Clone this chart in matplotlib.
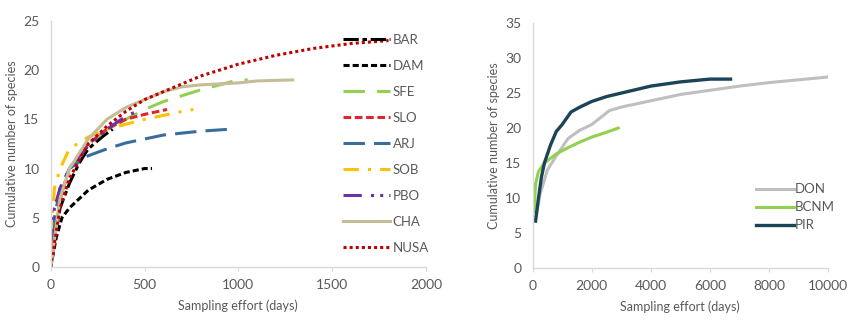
import numpy as np
import matplotlib.pyplot as plt

plt.rcParams['font.family'] = ['Lato', 'DejaVu Sans']

# left panel: species accumulation curves (x = sampling days, y = species)
bar_x = [0, 20, 50, 100, 150, 200, 280, 330]
bar_y = [0, 3, 6, 8.5, 10.5, 12, 13.3, 14]
dam_x = [0, 30, 60, 100, 200, 300, 400, 500, 540]
dam_y = [0, 3, 5, 6, 7.8, 8.9, 9.6, 10, 10]
sfe_x = [0, 50, 100, 200, 300, 400, 500, 600, 700, 800, 900, 1000, 1050]
sfe_y = [0, 7, 10, 12.5, 14, 15, 16, 16.8, 17.4, 18, 18.5, 19, 19]
slo_x = [0, 50, 100, 200, 300, 400, 500, 620]
slo_y = [0, 7, 10, 12.5, 14, 15, 15.5, 16]
arj_x = [0, 20, 50, 100, 200, 300, 400, 500, 600, 700, 800, 960]
arj_y = [0, 5, 8, 10, 11.3, 12, 12.6, 13, 13.4, 13.6, 13.8, 14]
sob_x = [0, 20, 50, 100, 200, 300, 400, 500, 600, 700, 760]
sob_y = [3, 8, 10, 12, 13.2, 14, 14.5, 15, 15.4, 15.8, 16]
pbo_x = [0, 20, 50, 100, 200, 300, 400, 470]
pbo_y = [2, 6, 8, 10, 12.3, 14, 15.3, 15.9]
cha_x = [0, 50, 100, 200, 300, 400, 500, 600, 700, 800, 900, 1000, 1100, 1290]
cha_y = [0, 7, 10, 13, 15, 16.2, 17, 17.8, 18.3, 18.5, 18.6, 18.7, 18.9, 19]
nusa_x = [0, 50, 100, 200, 300, 400, 500, 600, 700, 800, 900, 1000, 1200, 1400, 1600, 1800]
nusa_y = [0, 6, 9, 12.5, 14.3, 15.8, 17, 17.8, 18.6, 19.4, 20, 20.6, 21.5, 22.2, 22.7, 23]

# right panel
don_x = [100, 250, 500, 800, 1200, 1600, 2000, 2600, 3000, 4000, 5000, 6000, 7000, 8000, 9000, 10000]
don_y = [7, 10.5, 14, 16, 18.5, 19.7, 20.5, 22.5, 23, 23.9, 24.8, 25.4, 26, 26.5, 26.9, 27.3]
bcnm_x = [50, 100, 200, 400, 800, 1200, 1600, 2000, 2500, 2900]
bcnm_y = [8, 12, 13.8, 15, 16.3, 17.2, 18, 18.7, 19.4, 20]
pir_x = [100, 200, 300, 400, 600, 800, 1000, 1300, 1600, 2000, 2500, 3000, 3500, 4000, 5000, 6000, 6700]
pir_y = [6.7, 10, 13, 15, 17.5, 19.5, 20.5, 22.3, 23, 23.8, 24.5, 25, 25.5, 26, 26.6, 27, 27]

txt = '#595959'
spine = '#d9d9d9'

fig = plt.figure(figsize=(8.59, 3.26), dpi=100)
ax1 = fig.add_axes([0.059, 0.181, 0.437, 0.755])
ax2 = fig.add_axes([0.620, 0.178, 0.344, 0.751])

lw = 2.2
left_series = [
    (bar_x, bar_y, 'BAR', 'black', (0, (5, 1.2, 1.5, 1.2))),
    (dam_x, dam_y, 'DAM', 'black', (0, (2, 1))),
    (sfe_x, sfe_y, 'SFE', '#92d050', (0, (7, 4))),
    (slo_x, slo_y, 'SLO', '#e0262b', (0, (2.5, 1.2))),
    (arj_x, arj_y, 'ARJ', '#3a6d9e', (0, (7, 3))),
    (sob_x, sob_y, 'SOB', '#ffc000', (0, (5, 3, 1, 3))),
    (pbo_x, pbo_y, 'PBO', '#7030a0', (0, (6, 3, 1, 2, 1, 2))),
    (cha_x, cha_y, 'CHA', '#c4bd97', '-'),
    (nusa_x, nusa_y, 'NUSA', '#c00000', (0, (1, 1))),
]
for x, y, lab, c, ls in left_series:
    ax1.plot(x, y, color=c, linestyle=ls, lw=lw, label=lab)

ax2.plot(don_x, don_y, color='#bfbfbf', lw=2.2, label='DON')
ax2.plot(bcnm_x, bcnm_y, color='#92d050', lw=2.2, label='BCNM')
ax2.plot(pir_x, pir_y, color='#1b4556', lw=2.4, label='PIR')

ax1.set_xlim(0, 2000)
ax1.set_ylim(0, 25)
ax1.set_xticks(np.arange(0, 2001, 500))
ax1.set_yticks(np.arange(0, 26, 5))
ax2.set_xlim(0, 10000)
ax2.set_ylim(0, 35)
ax2.set_xticks(np.arange(0, 10001, 2000))
ax2.set_yticks(np.arange(0, 36, 5))

for ax in (ax1, ax2):
    for s in ('top', 'right'):
        ax.spines[s].set_visible(False)
    for s in ('left', 'bottom'):
        ax.spines[s].set_color(spine)
        ax.spines[s].set_linewidth(1.0)
    ax.tick_params(axis='both', colors=spine, labelcolor=txt, labelsize=10)
    ax.tick_params(axis='y', length=0, pad=8)
    ax.tick_params(axis='x', length=3, pad=6)
    ax.set_xlabel('Sampling effort (days)', color=txt, fontsize=9, labelpad=6)
    ax.set_ylabel('Cumulative number of species', color=txt, fontsize=9, labelpad=4)

ax1.legend(loc='upper left', bbox_to_anchor=(0.392, 0.917), bbox_transform=fig.transFigure,
           frameon=False, fontsize=9.5, handlelength=3.5, handletextpad=0.25,
           labelspacing=1.06, labelcolor=txt, borderpad=0)
ax2.legend(loc='upper left', bbox_to_anchor=(0.872, 0.458), bbox_transform=fig.transFigure,
           frameon=False, fontsize=9.5, handlelength=2.9, handletextpad=0.1,
           labelspacing=0.45, labelcolor=txt, borderpad=0)

fig.savefig('out.png', dpi=100)
